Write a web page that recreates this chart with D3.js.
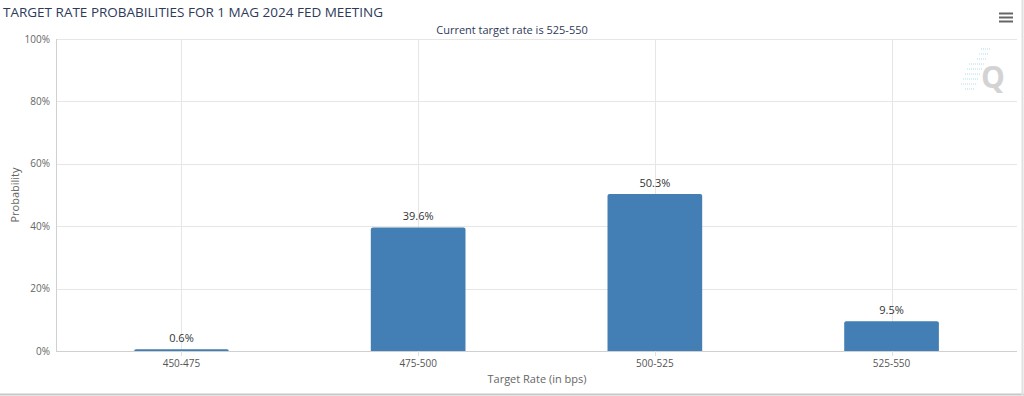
<!DOCTYPE html>
<html>
<head>
<meta charset="utf-8">
<script src="https://cdn.jsdelivr.net/npm/d3@7"></script>
<style>
  body { margin: 0; background: #fff; }
  svg { display: block; font-family: "Open Sans", "DejaVu Sans", sans-serif; }
</style>
</head>
<body>
<svg id="chart" width="1024" height="396"></svg>
<script>
var categories = ['450-475', '475-500', '500-525', '525-550'];
var probabilities = [0.6, 39.6, 50.3, 9.5];
var yTicks = [0, 20, 40, 60, 80, 100];

var svg = d3.select('#chart');
var W = 1024;
var plotLeft = 56, plotRight = 1017, plotTop = 39, plotBottom = 351;

// frame
svg.append('line').attr('x1', 0).attr('x2', W).attr('y1', 394.5).attr('y2', 394.5)
    .attr('stroke', '#c8c8c8').attr('stroke-width', 2);
svg.append('line').attr('x1', 1022.5).attr('x2', 1022.5).attr('y1', 0).attr('y2', 395)
    .attr('stroke', '#e0e0e0').attr('stroke-width', 2);

var x = d3.scaleBand().domain(categories).range([plotLeft, plotRight])
    .paddingInner(0.6).paddingOuter(0.33);
var y = d3.scaleLinear().domain([0, 100]).range([plotBottom, plotTop]);
var bw = x.bandwidth();
function cx(d){ return Math.round(x(d) + bw/2) + 0.5; }

// horizontal grid
svg.append('g').selectAll('line').data(yTicks).join('line')
    .attr('x1', plotLeft).attr('x2', plotRight)
    .attr('y1', function(d){ return Math.round(y(d)) + 0.5; })
    .attr('y2', function(d){ return Math.round(y(d)) + 0.5; })
    .attr('stroke', '#e6e6e6');

// vertical grid at category centers
svg.append('g').selectAll('line').data(categories).join('line')
    .attr('x1', cx).attr('x2', cx)
    .attr('y1', plotTop).attr('y2', plotBottom)
    .attr('stroke', '#e6e6e6');

// y axis line
svg.append('line').attr('x1', plotLeft + 0.5).attr('x2', plotLeft + 0.5).attr('y1', plotTop).attr('y2', plotBottom)
    .attr('stroke', '#d0d0d0');

// y tick labels
svg.append('g').selectAll('text').data(yTicks).join('text')
    .attr('x', plotLeft - 6).attr('y', function(d){ return y(d) + 3.5; })
    .attr('text-anchor', 'end').attr('font-size', 10).attr('fill', '#666')
    .text(function(d){ return d + '%'; });

// bars
function barPath(d, i){
    var x0 = x(categories[i]), x1 = x0 + bw;
    var y0 = y(d), yb = y(0);
    var r = Math.min(2, (yb - y0));
    var p = d3.path();
    p.moveTo(x0, yb);
    p.lineTo(x0, y0 + r);
    p.quadraticCurveTo(x0, y0, x0 + r, y0);
    p.lineTo(x1 - r, y0);
    p.quadraticCurveTo(x1, y0, x1, y0 + r);
    p.lineTo(x1, yb);
    p.closePath();
    return p.toString();
}
svg.append('g').selectAll('path').data(probabilities).join('path')
    .attr('d', barPath)
    .attr('fill', '#437fb4');

// x axis line and ticks
svg.append('line').attr('x1', plotLeft).attr('x2', plotRight).attr('y1', plotBottom + 0.5).attr('y2', plotBottom + 0.5)
    .attr('stroke', '#d0d0d0');
svg.append('g').selectAll('line').data(categories).join('line')
    .attr('x1', cx).attr('x2', cx)
    .attr('y1', plotBottom).attr('y2', plotBottom + 5)
    .attr('stroke', '#e0e0e0');
svg.append('g').selectAll('text').data(categories).join('text')
    .attr('x', function(d){ return x(d) + bw/2; }).attr('y', 367)
    .attr('text-anchor', 'middle').attr('font-size', 10).attr('fill', '#555')
    .text(function(d){ return d; });

// data labels
svg.append('g').selectAll('text').data(probabilities).join('text')
    .attr('x', function(d, i){ return x(categories[i]) + bw/2; })
    .attr('y', function(d){ return y(d) - 7; })
    .attr('text-anchor', 'middle').attr('font-size', 11).attr('fill', '#333')
    .text(function(d){ return d.toFixed(1) + '%'; });

// axis titles
svg.append('text').attr('x', 537).attr('y', 383).attr('text-anchor', 'middle')
    .attr('font-size', 11).attr('fill', '#666').text('Target Rate (in bps)');
svg.append('text').attr('transform', 'translate(19,195) rotate(-90)').attr('text-anchor', 'middle')
    .attr('font-size', 11).attr('fill', '#666').text('Probability');

// title and subtitle
svg.append('text').attr('x', 3).attr('y', 17).attr('font-size', 13.5).attr('fill', '#2e3a5a')
    .text('TARGET RATE PROBABILITIES FOR 1 MAG 2024 FED MEETING');
svg.append('text').attr('x', 512).attr('y', 34).attr('text-anchor', 'middle')
    .attr('font-size', 11).attr('fill', '#2e3a5a').text('Current target rate is 525-550');

// menu icon
svg.append('g').selectAll('line').data([0, 1, 2]).join('line')
    .attr('x1', 999).attr('x2', 1013)
    .attr('y1', function(d){ return 13.5 + d * 4; }).attr('y2', function(d){ return 13.5 + d * 4; })
    .attr('stroke', '#666').attr('stroke-width', 2);

// watermark
var wm = svg.append('g').attr('opacity', 0.8);
var dots = [[8, 49], [6, 54], [4, 59], [2, 64], [0, 69], [-2, 74], [-4, 79], [-6, 84], [-8, 89]];
wm.selectAll('line').data(dots).join('line')
    .attr('x1', function(d){ return 973 + d[0] - (d[1] > 60 && d[1] < 85 ? 6 : 0); })
    .attr('x2', function(d){ return 983 + d[0]; })
    .attr('y1', function(d){ return d[1]; }).attr('y2', function(d){ return d[1]; })
    .attr('stroke', '#bfe3f2').attr('stroke-width', 1.5).attr('stroke-dasharray', '1,1');
wm.append('text').attr('x', 993).attr('y', 88).attr('text-anchor', 'middle')
    .attr('font-size', 30).attr('font-weight', 'bold').attr('fill', '#c9c9c9').text('Q');
</script>
</body>
</html>
